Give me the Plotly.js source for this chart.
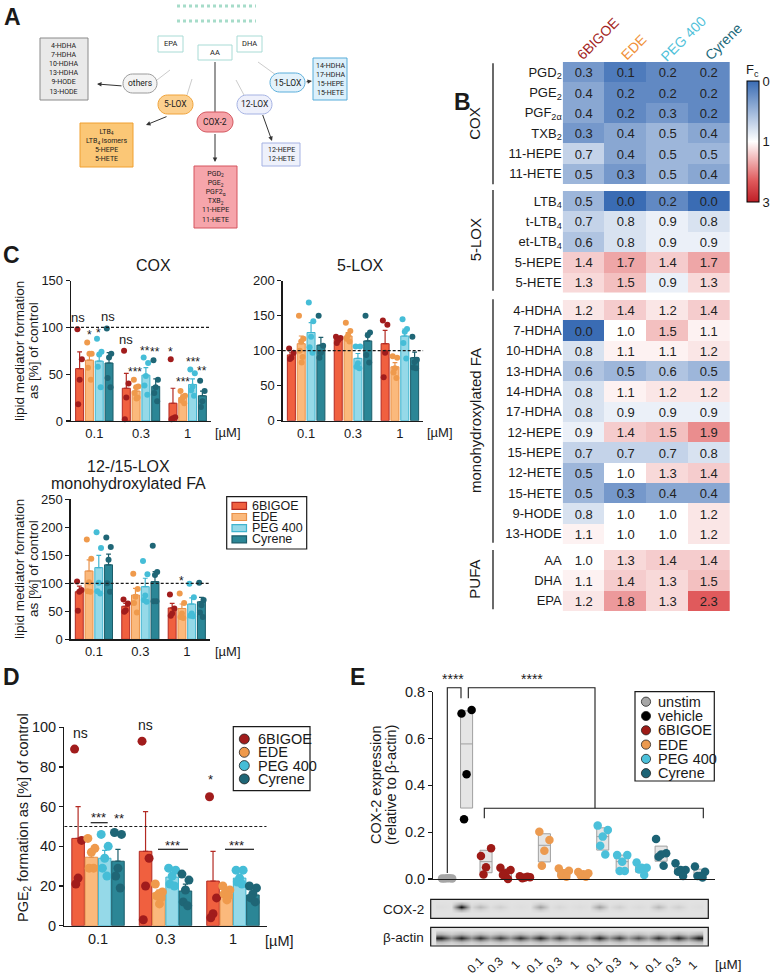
<!DOCTYPE html>
<html><head><meta charset="utf-8">
<script src="https://cdn.plot.ly/plotly-3.0.1.min.js"></script>
<style>body{margin:0;background:#fff}#chart{width:784px;height:976px}</style>
</head><body><div id="chart"></div>
<script>
// ================= DATA =================
const solvents = ['6BIGOE', 'EDE', 'PEG 400', 'Cyrene'];
const concs = ['0.1', '0.3', '1'];

// Panel C – COX (% of control), per solvent: [0.1, 0.3, 1]
const coxMean = [[56, 35, 19], [65, 32, 25], [64, 49, 39], [62, 37, 27]];
const coxSem  = [[18, 16, 16], [8, 4, 3], [7, 8, 6], [11, 8, 5]];
const coxPts  = [
  [[98, 66, 44, 18], [75, 40, 25, 2], [66, 4, 3, 2]],
  [[84, 72, 72, 57, 44], [44, 37, 36, 30, 25, 24], [32, 27, 25, 22, 19]],
  [[88, 74, 71, 58, 36], [68, 62, 48, 38, 28], [55, 51, 37, 33, 27]],
  [[99, 72, 68, 46, 36], [65, 44, 36, 30, 21], [43, 32, 21, 15]]
];
// Panel C – 5-LOX
const loxMean = [[94, 116, 110], [110, 121, 77], [126, 89, 121], [108, 114, 90]];
const loxSem  = [[3, 2, 19], [11, 5, 6], [14, 7, 10], [11, 11, 8]];
const loxPts  = [
  [[103, 97, 90, 88], [120, 118, 115, 111], [143, 137, 97, 62]],
  [[150, 117, 113, 100, 91, 83], [140, 128, 122, 117, 113], [92, 90, 75, 69, 61]],
  [[169, 142, 120, 105, 97], [106, 106, 82, 77, 75], [145, 131, 127, 111, 89]],
  [[150, 107, 97, 90], [150, 126, 122, 94, 83], [120, 87, 84, 76, 75]]
];
// Panel C – 12-/15-LOX monohydroxylated FA
const monoMean = [[85, 59, 56], [122, 79, 55], [128, 94, 63], [133, 103, 67]];
const monoSem  = [[10, 5, 8], [20, 12, 8], [22, 15, 11], [19, 18, 8]];
const monoPts  = [
  [[103, 88, 85, 51], [71, 64, 52, 49], [80, 55, 46, 42]],
  [[178, 144, 102, 86, 85], [117, 90, 76, 65, 48], [82, 65, 46, 40, 38]],
  [[191, 163, 101, 86, 82], [140, 116, 78, 70, 67], [99, 75, 46, 42, 41]],
  [[182, 165, 142, 100, 85], [167, 120, 115, 68, 68], [101, 70, 61, 48, 40]]
];
// Panel D – PGE2 formation (% of control)
const pgeMean = [[44, 37.5, 22.5], [34.5, 16.5, 16], [34, 24.5, 24], [32.5, 17.5, 15.5]];
const pgeSem  = [[16, 20, 15], [3, 1.5, 1], [4, 2, 1.5], [6, 3.5, 1.5]];
const pgePts  = [
  [[89, 43, 24, 21], [93, 34, 20, 3], [65, 14, 6, 4]],
  [[44, 39, 37, 29, 29], [21, 17, 16, 15, 14, 11], [20, 18, 17, 16, 15, 13]],
  [[46, 40, 34, 29, 25], [29, 28, 25, 21, 20], [28, 28, 24, 22, 21]],
  [[47, 46, 29, 25, 19], [26, 23, 18, 12, 10], [20, 19, 16, 14, 12]]
];
// Panel B – heatmap fold change
const hmCols = ['6BIGOE', 'EDE', 'PEG 400', 'Cyrene'];
const hmCoxRows  = ['PGD<sub>2</sub>', 'PGE<sub>2</sub>', 'PGF<sub>2α</sub>', 'TXB<sub>2</sub>', '11-HEPE', '11-HETE'];
const hmCoxVals  = [[0.3, 0.1, 0.2, 0.2], [0.4, 0.2, 0.2, 0.2], [0.4, 0.2, 0.3, 0.2], [0.3, 0.4, 0.5, 0.4], [0.7, 0.4, 0.5, 0.5], [0.5, 0.3, 0.5, 0.4]];
const hmLoxRows  = ['LTB<sub>4</sub>', 't-LTB<sub>4</sub>', 'et-LTB<sub>4</sub>', '5-HEPE', '5-HETE'];
const hmLoxVals  = [[0.5, 0.0, 0.2, 0.0], [0.7, 0.8, 0.9, 0.8], [0.6, 0.8, 0.9, 0.9], [1.4, 1.7, 1.4, 1.7], [1.3, 1.5, 0.9, 1.3]];
const hmMonoRows = ['4-HDHA', '7-HDHA', '10-HDHA', '13-HDHA', '14-HDHA', '17-HDHA', '12-HEPE', '15-HEPE', '12-HETE', '15-HETE', '9-HODE', '13-HODE'];
const hmMonoVals = [[1.2, 1.4, 1.2, 1.4], [0.0, 1.0, 1.5, 1.1], [0.8, 1.1, 1.1, 1.2], [0.6, 0.5, 0.6, 0.5], [0.8, 1.1, 1.2, 1.2], [0.8, 0.9, 0.9, 0.9],
                    [0.9, 1.4, 1.5, 1.9], [0.7, 0.7, 0.7, 0.8], [0.5, 1.0, 1.3, 1.4], [0.5, 0.3, 0.4, 0.4], [0.8, 1.0, 1.0, 1.2], [1.1, 1.0, 1.0, 1.2]];
const hmPufaRows = ['AA', 'DHA', 'EPA'];
const hmPufaVals = [[1.0, 1.3, 1.4, 1.4], [1.1, 1.4, 1.3, 1.5], [1.2, 1.8, 1.3, 2.3]];
const hmGroups = ['COX', '5-LOX', 'monohydroxylated FA', 'PUFA'];
// Panel E – COX-2 expression (relative to β-actin)
const eGroups = ['unstim', 'vehicle', '6BIGOE 0.1', '6BIGOE 0.3', '6BIGOE 1', 'EDE 0.1', 'EDE 0.3', 'EDE 1',
                 'PEG 400 0.1', 'PEG 400 0.3', 'PEG 400 1', 'Cyrene 0.1', 'Cyrene 0.3', 'Cyrene 1'];
const eValues = [
  [0.002, 0.002, 0.003, 0.002, 0.003],
  [0.707, 0.722, 0.447, 0.255],
  [0.098, 0.131, 0.050, 0.019],
  [0.048, 0.038, 0.025, 0.017, 0.000],
  [0.012, 0.008, 0.006, 0.003, 0.010],
  [0.202, 0.167, 0.121, 0.057],
  [0.045, 0.035, 0.025, 0.015, 0.010],
  [0.030, 0.025, 0.020, 0.015, 0.010],
  [0.228, 0.209, 0.181, 0.142, 0.105],
  [0.102, 0.102, 0.074, 0.034, 0.034],
  [0.070, 0.048, 0.048, 0.041, 0.017],
  [0.171, 0.110, 0.105, 0.095, 0.057],
  [0.067, 0.038, 0.038, 0.031, 0.013],
  [0.053, 0.031, 0.013, 0.013, 0.006]
];
const eLegend = ['unstim', 'vehicle', '6BIGOE', 'EDE', 'PEG 400', 'Cyrene'];
const laneLabels = ['0.1', '0.3', '1', '0.1', '0.3', '1', '0.1', '0.3', '1', '0.1', '0.3', '1'];
// western blot band intensity per lane (0 = none, 1 = strongest)
const cox2Band  = [0.02, 1.0, 0.22, 0.1, 0.02, 0.35, 0.06, 0.03, 0.35, 0.1, 0.04, 0.22, 0.1, 0.02];
const actinBand = [0.92, 0.9, 0.85, 0.8, 0.85, 0.9, 0.8, 0.75, 0.9, 0.8, 0.72, 0.85, 0.9, 0.92];

// ================= STYLE =================
const W = 784, H = 976;
const PX = v => v / W, PY = v => 1 - v / H;
const dX = (a, b) => [a / W, b / W];
const dY = (top, bot) => [1 - bot / H, 1 - top / H];
const FONT = 'Arial, "Liberation Sans", sans-serif';
const INK = '#1a1a1a';
const solFill = ['#f0603f', '#fbb97c', '#95d9e8', '#2b8696'];
const solEdge = ['#b32a23', '#e8914a', '#3fb4cf', '#1c5d6a'];
const solDot  = ['#a11c1c', '#ef9a4c', '#45bdd7', '#1f6676'];
const eColors = ['#a6a6a6', '#000000', '#9e1b17', '#9e1b17', '#9e1b17', '#ec9a4f', '#ec9a4f', '#ec9a4f',
                 '#4bc0da', '#4bc0da', '#4bc0da', '#1c6375', '#1c6375', '#1c6375'];
const eLegColors = ['#a6a6a6', '#000000', '#9e1b17', '#ec9a4f', '#4bc0da', '#1c6375'];
const jit = [-0.28, 0.28, 0, -0.18, 0.18, 0.05];

const traces = [];
const shapes = [];
const ann = [];

function txt(x, y, t, size, o = {}) {
  ann.push(Object.assign({xref: 'paper', yref: 'paper', x: PX(x), y: PY(y), text: t, showarrow: false,
    font: {family: o.family || FONT, size: size, color: o.color || INK}, xanchor: 'center', yanchor: 'middle'}, o.extra || {}));
}
function rectPx(x0, y0, x1, y1, fill, line, lw = 1) {
  shapes.push({type: 'rect', xref: 'paper', yref: 'paper', x0: PX(x0), x1: PX(x1), y0: PY(y0), y1: PY(y1),
    fillcolor: fill, line: {color: line, width: lw}, layer: 'above'});
}
function linePx(x0, y0, x1, y1, color, lw = 1, dash = 'solid') {
  shapes.push({type: 'line', xref: 'paper', yref: 'paper', x0: PX(x0), x1: PX(x1), y0: PY(y0), y1: PY(y1),
    line: {color: color, width: lw, dash: dash}, layer: 'above'});
}
function pathPx(pts, color, lw = 1) {
  const d = pts.map((p, i) => (i ? 'L' : 'M') + PX(p[0]) + ',' + PY(p[1])).join(' ');
  shapes.push({type: 'path', xref: 'paper', yref: 'paper', path: d, line: {color: color, width: lw}, layer: 'above'});
}
function circlePx(cx, cy, r, fill, line) {
  shapes.push({type: 'circle', xref: 'paper', yref: 'paper', x0: PX(cx - r), x1: PX(cx + r), y0: PY(cy + r), y1: PY(cy - r),
    fillcolor: fill, line: {color: line, width: 0.8}, layer: 'above'});
}
function pillPx(x0, y0, x1, y1, fill, line) {
  const r = (y1 - y0) / 2, ym = (y0 + y1) / 2;
  const P = (x, y) => PX(x) + ',' + PY(y);
  const d = 'M' + P(x0 + r, y0) + ' L' + P(x1 - r, y0) + ' C' + P(x1 - r * 0.45, y0) + ' ' + P(x1, ym - r * 0.55) + ' ' + P(x1, ym) +
    ' C' + P(x1, ym + r * 0.55) + ' ' + P(x1 - r * 0.45, y1) + ' ' + P(x1 - r, y1) + ' L' + P(x0 + r, y1) +
    ' C' + P(x0 + r * 0.45, y1) + ' ' + P(x0, ym + r * 0.55) + ' ' + P(x0, ym) +
    ' C' + P(x0, ym - r * 0.55) + ' ' + P(x0 + r * 0.45, y0) + ' ' + P(x0 + r, y0) + ' Z';
  shapes.push({type: 'path', xref: 'paper', yref: 'paper', path: d, fillcolor: fill, line: {color: line, width: 1}, layer: 'above'});
}
function arrowPx(tx, ty, hx, hy, color = '#333') {
  ann.push({xref: 'paper', yref: 'paper', x: PX(hx), y: PY(hy), ax: tx - hx, ay: ty - hy, axref: 'pixel', ayref: 'pixel',
    text: ' ', font: {size: 1}, showarrow: true, arrowhead: 2, arrowsize: 0.9, arrowwidth: 1, arrowcolor: color, standoff: 0, startstandoff: 0});
}

// ================= PANEL C / D bars =================
function barPanel(xa, ya, means, sems, pts, pitch, bw, dotSize) {
  solvents.forEach((s, k) => {
    const xs = concs.map((c, i) => i + (k - 1.5) * pitch);
    traces.push({type: 'bar', xaxis: xa, yaxis: ya, x: xs, y: means[k], width: bw,
      marker: {color: solFill[k], line: {color: solEdge[k], width: 1}},
      error_y: {type: 'data', symmetric: false, array: sems[k], arrayminus: sems[k].map(() => 0),
        color: solEdge[k], thickness: 1.2, width: bw * 14},
      hoverinfo: 'skip', showlegend: false});
    const dx = [], dy = [];
    pts[k].forEach((arr, i) => arr.forEach((v, j) => { dx.push(xs[i] + jit[j % jit.length] * bw); dy.push(v); }));
    traces.push({type: 'scatter', mode: 'markers', xaxis: xa, yaxis: ya, x: dx, y: dy, cliponaxis: false,
      marker: {color: solDot[k], size: dotSize, line: {width: 0}}, hoverinfo: 'skip', showlegend: false});
  });
}
barPanel('x', 'y', coxMean, coxSem, coxPts, 0.21, 0.171, 6);
barPanel('x2', 'y2', loxMean, loxSem, loxPts, 0.21, 0.171, 6);
barPanel('x3', 'y3', monoMean, monoSem, monoPts, 0.21, 0.171, 6);
barPanel('x4', 'y4', pgeMean, pgeSem, pgePts, 0.197, 0.186, 9);

// dashed reference lines
[['x', 'y', 100], ['x2', 'y2', 100], ['x3', 'y3', 100], ['x4', 'y4', 50]].forEach(([xa, ya, v]) => {
  shapes.push({type: 'line', xref: xa, yref: ya, x0: -0.5, x1: 2.5, y0: v, y1: v, line: {color: INK, width: 1.2, dash: '3px,2px'}, layer: 'above'});
});

// ================= PANEL B heatmap =================
const tFc = z => -(z <= 1 ? z : 1 + (z - 1) / 2);
const hmSets = [[hmCoxRows, hmCoxVals], [hmLoxRows, hmLoxVals], [hmMonoRows, hmMonoVals], [hmPufaRows, hmPufaVals]];
hmSets.forEach(([rows, vals], g) => {
  traces.push({type: 'heatmap', xaxis: 'x' + (6 + g), yaxis: 'y' + (6 + g), x: hmCols, y: rows,
    z: vals.map(r => r.map(tFc)), text: vals.map(r => r.map(v => v.toFixed(1))), texttemplate: '%{text}',
    textfont: {family: FONT, size: 13, color: '#222'}, coloraxis: 'coloraxis', hoverinfo: 'skip', xgap: 0, ygap: 0});
});

// ================= PANEL E =================
function quart(arr, p) {
  const s = [...arr].sort((a, b) => a - b), n = s.length;
  let pos = p * (n + 1); pos = Math.min(Math.max(pos, 1), n);
  const lo = Math.floor(pos), f = pos - lo;
  return lo >= n ? s[n - 1] : s[lo - 1] + f * (s[lo] - s[lo - 1]);
}
const eIdx = eGroups.map((g, i) => i);
const q1 = eValues.map(v => quart(v, 0.25)), q3 = eValues.map(v => quart(v, 0.75)), med = eValues.map(v => quart(v, 0.5));
traces.push({type: 'box', xaxis: 'x5', yaxis: 'y5', x: eIdx.slice(1), q1: q1.slice(1), median: med.slice(1), q3: q3.slice(1),
  lowerfence: q1.slice(1), upperfence: q3.slice(1), width: 0.62, fillcolor: '#e5e5e5', line: {color: '#a0a0a0', width: 1},
  whiskerwidth: 0, hoverinfo: 'skip', showlegend: false});
const eJit = [-0.26, 0.26, 0, -0.13, 0.13];
const ex = [], ey = [], ec = [];
eValues.forEach((vals, i) => vals.forEach((v, j) => { ex.push(i + eJit[j % eJit.length]); ey.push(v); ec.push(eColors[i]); }));
traces.push({type: 'scatter', mode: 'markers', xaxis: 'x5', yaxis: 'y5', x: ex, y: ey, cliponaxis: false,
  marker: {color: ec, size: 8.5, line: {width: 0}}, hoverinfo: 'skip', showlegend: false});

// western blot bands
function bandZ(band, gapF, prof) {
  const row = [];
  band.forEach((v, i) => { row.push(v); if (i < band.length - 1) row.push(gapF * Math.min(v, band[i + 1])); });
  return prof.map(p => row.map(v => v * p));
}
const laneX = [];
cox2Band.forEach((v, i) => { laneX.push(i); if (i < cox2Band.length - 1) laneX.push(i + 0.5); });
const blotScale = [[0, '#e2e2e2'], [0.45, '#8c8c8c'], [1, '#050505']];
traces.push({type: 'heatmap', xaxis: 'x10', yaxis: 'y10', x: laneX, y: [0, 1, 2, 3, 4], z: bandZ(cox2Band, 0.2, [0, 0.3, 1, 0.3, 0]),
  zsmooth: 'best', colorscale: blotScale, zmin: 0, zmax: 1, showscale: false, hoverinfo: 'skip'});
traces.push({type: 'heatmap', xaxis: 'x11', yaxis: 'y11', x: laneX, y: [0, 1, 2, 3, 4], z: bandZ(actinBand, 0.5, [0, 0.25, 1, 0.25, 0]),
  zsmooth: 'best', colorscale: blotScale, zmin: 0, zmax: 1, showscale: false, hoverinfo: 'skip'});

// ================= AXES =================
function valAxis(domain, range, tickvals, anchor, fs, fmt) {
  return {domain, range, tickvals, anchor, tickformat: fmt || '', showline: true, linecolor: INK, linewidth: 1.3,
    ticks: 'outside', ticklen: 4, tickwidth: 1.3, tickcolor: INK, showgrid: false, zeroline: false,
    tickfont: {family: FONT, size: fs, color: INK}, fixedrange: true};
}
function catAxis(domain, anchor, fs) {
  return {domain, range: [-0.5, 2.5], tickvals: [0, 1, 2], ticktext: concs, anchor, showline: true, linecolor: INK, linewidth: 1.3,
    ticks: '', showgrid: false, zeroline: false, tickfont: {family: FONT, size: fs, color: INK}, fixedrange: true};
}
const layout = {
  width: W, height: H, margin: {l: 0, r: 0, t: 0, b: 0}, paper_bgcolor: '#fff', plot_bgcolor: 'rgba(0,0,0,0)',
  showlegend: false, barmode: 'overlay', font: {family: FONT, color: INK, size: 13},
  xaxis: catAxis(dX(71, 211), 'y', 13), yaxis: valAxis(dY(280.7, 421), [0, 150], [0, 50, 100, 150], 'x', 13),
  xaxis2: catAxis(dX(282.7, 423.3), 'y2', 13), yaxis2: valAxis(dY(280.7, 420.7), [0, 200], [0, 50, 100, 150, 200], 'x2', 13),
  xaxis3: catAxis(dX(70.7, 210), 'y3', 13), yaxis3: valAxis(dY(499.3, 639.3), [0, 250], [0, 50, 100, 150, 200, 250], 'x3', 13),
  xaxis4: catAxis(dX(64.3, 266.7), 'y4', 14.5), yaxis4: valAxis(dY(727.3, 925.7), [0, 100], [0, 20, 40, 60, 80, 100], 'x4', 14.5),
  xaxis5: {domain: dX(433.3, 715), range: [-0.71, 13.77], anchor: 'y5', showline: true, linecolor: INK, linewidth: 1.3,
    ticks: '', showticklabels: false, showgrid: false, zeroline: false, fixedrange: true},
  yaxis5: valAxis(dY(691.7, 879), [0, 0.8], [0, 0.2, 0.4, 0.6, 0.8], 'x5', 14.5, '.1f'),
  coloraxis: {cmin: -2, cmax: 0,
    colorscale: [[0, 'rgb(190,30,38)'], [0.175, 'rgb(224,90,92)'], [0.5, 'rgb(255,255,255)'], [1, 'rgb(58,108,180)']],
    colorbar: {lenmode: 'pixels', len: 121, thickness: 12, x: PX(747), xanchor: 'left', y: PY(141.5), yanchor: 'middle',
      xpad: 0, ypad: 0, outlinewidth: 1, outlinecolor: '#000', tickvals: [-2, -1, 0], ticktext: ['3', '1', '0'], ticks: '',
      tickfont: {family: FONT, size: 13, color: INK}}},
  shapes: shapes, annotations: ann
};
const hmY = [[62, 184], [191, 292.5], [300, 544], [550, 611]];
hmY.forEach(([t, b], g) => {
  layout['xaxis' + (6 + g)] = {domain: dX(562.7, 730), anchor: 'y' + (6 + g), type: 'category', range: [-0.5, 3.5], visible: false, fixedrange: true};
  layout['yaxis' + (6 + g)] = {domain: dY(t, b), anchor: 'x' + (6 + g), type: 'category', autorange: 'reversed', showline: false,
    ticks: '', showgrid: false, zeroline: false, tickfont: {family: FONT, size: 13, color: INK}, fixedrange: true};
});
layout.xaxis10 = {domain: dX(431.3, 707.7), anchor: 'y10', range: [-0.5, 13.5], visible: false, fixedrange: true};
layout.yaxis10 = {domain: dY(899.8, 917.8), anchor: 'x10', range: [-1.6, 4.2], visible: false, fixedrange: true};
layout.xaxis11 = {domain: dX(431.3, 707.7), anchor: 'y11', range: [-0.5, 13.5], visible: false, fixedrange: true};
layout.yaxis11 = {domain: dY(927.8, 945.5), anchor: 'x11', range: [0.04, 4.5], visible: false, fixedrange: true};

// ================= TEXT & DECORATION =================
// panel letters
[['A', 12, 17], ['B', 463, 102], ['C', 11, 255], ['D', 11, 677], ['E', 357, 677]].forEach(([t, x, y]) =>
  txt(x, y, '<b>' + t + '</b>', 23));

// --- Panel A schematic ---
linePx(177, 6, 256, 6, '#a6dcc9', 3, 'dot');
linePx(177, 21, 256, 21, '#a6dcc9', 3, 'dot');
// connectors
linePx(170, 70, 157, 80, '#cccccc', 1);
linePx(192, 79, 187, 95, '#cccccc', 1);
linePx(236, 80, 244, 95, '#cccccc', 1);
linePx(258, 62, 276, 75, '#cccccc', 1);
linePx(215, 62, 215, 112, '#555555', 1.2);
// substrate boxes
rectPx(158, 36, 183, 52, '#ffffff', '#a8dbd5'); txt(170.5, 44, 'EPA', 7.5, {family: 'Roboto'});
rectPx(198, 45, 232, 60, '#ffffff', '#a8dbd5'); txt(215, 52.5, 'AA', 7.5, {family: 'Roboto'});
rectPx(237, 36, 262, 52, '#ffffff', '#a8dbd5'); txt(249.5, 44, 'DHA', 7.5, {family: 'Roboto'});
// enzymes
pillPx(123, 74, 157, 93, '#f4f4f4', '#9a9a9a'); txt(140, 83.5, 'others', 8.5, {family: 'Roboto'});
pillPx(158, 95, 193, 114, '#fcd08f', '#f0a33a'); txt(175.5, 104.5, '5-LOX', 8.5, {family: 'Roboto'});
pillPx(197, 112, 233, 132, '#f6a3a8', '#d4575f'); txt(215, 122, 'COX-2', 8.5, {family: 'Roboto'});
pillPx(237, 95, 272, 114, '#eef0fb', '#a5b2e3'); txt(254.5, 104.5, '12-LOX', 8.5, {family: 'Roboto'});
pillPx(270, 73, 305, 92, '#e3f2fb', '#5aaedb'); txt(287.5, 82.5, '15-LOX', 8.5, {family: 'Roboto'});
// products
rectPx(40, 38, 88, 100, '#e9e9e9', '#8a8a8a');
txt(64, 69, '4-HDHA<br>7-HDHA<br>10-HDHA<br>13-HDHA<br>9-HODE<br>13-HODE', 7, {family: 'Roboto'});
rectPx(80, 123, 133, 167, '#fbc776', '#f0a030');
txt(106.5, 145, 'LTB<sub>4</sub><br>LTB<sub>4</sub> isomers<br>5-HEPE<br>5-HETE', 7, {family: 'Roboto'});
rectPx(194, 166, 237, 228, '#f6a5ab', '#d5555f');
txt(215.5, 197, 'PGD<sub>2</sub><br>PGE<sub>2</sub><br>PGF2<sub>α</sub><br>TXB<sub>2</sub><br>11-HEPE<br>11-HETE', 7, {family: 'Roboto'});
rectPx(262, 143, 300, 166, '#eef1fb', '#a5b2e3');
txt(281, 154.5, '12-HEPE<br>12-HETE', 7, {family: 'Roboto'});
rectPx(313, 58, 347, 100, '#dcf0fb', '#56acd9');
txt(330, 79, '14-HDHA<br>17-HDHA<br>15-HEPE<br>15-HETE', 7, {family: 'Roboto'});
// arrows
arrowPx(123, 86, 97, 84);
arrowPx(168, 116, 146, 125);
arrowPx(215, 132, 215, 162);
arrowPx(262, 113, 272, 141);
arrowPx(305, 82, 312, 81);

// --- Panel B text ---
[['6BIGOE', 597.5, 39, '#a31f24'], ['EDE', 633.7, 46.7, '#f0913a'], ['PEG 400', 683, 39, '#4fc1d9'], ['Cyrene', 723, 42, '#21697a']]
  .forEach(([t, x, y, c]) => txt(x, y, t, 14, {color: c, extra: {textangle: -45}}));
txt(752, 70, 'F<sub>c</sub>', 13);
[[63.3, 184.3], [190, 290.7], [299.3, 542.7], [550, 609.3]].forEach(([a, b], g) => {
  linePx(493, a, 493, b, INK, 1.3);
  txt(475, (a + b) / 2, hmGroups[g], 15, {extra: {textangle: -90}});
});

// --- Panel C text ---
txt(153, 265, 'COX', 16);
txt(360, 266, '5-LOX', 16);
txt(128.5, 466, '12-/15-LOX', 16);
txt(128.5, 483.5, 'monohydroxylated FA', 16);
[351, 569].forEach(cy => {
  txt(19, cy, 'lipid mediator formation', 13.5, {extra: {textangle: -90}});
  txt(33, cy, 'as [%] of control', 13.5, {extra: {textangle: -90}});
});
txt(228, 432, '[µM]', 13); txt(440, 432, '[µM]', 13); txt(228, 651, '[µM]', 13);
// significance COX
[['ns', 78, 317], ['*', 89, 335], ['*', 98, 333], ['ns', 108, 316],
 ['ns', 126, 339.5], ['***', 135, 372], ['**', 145, 351], ['**', 155, 352],
 ['*', 170, 352], ['***', 183, 382], ['***', 193, 362], ['**', 202, 371],
 ['*', 181.7, 581]].forEach(([t, x, y]) => txt(x, y, t, t === 'ns' ? 13 : 12));
// legend C
rectPx(226.7, 496.7, 306.7, 549, 'rgba(0,0,0,0)', INK, 1.2);
solvents.forEach((s, k) => {
  const y = 505.8 + k * 11.2;
  rectPx(232, y - 3.5, 246.5, y + 3.5, solFill[k], solEdge[k], 1.2);
  txt(250, y, s, 12.5, {extra: {xanchor: 'left'}});
});

// --- Panel D text ---
txt(24, 818, 'PGE<sub>2</sub> formation as [%] of control', 14.5, {extra: {textangle: -90}});
txt(279.3, 941, '[µM]', 14.5);
[['ns', 80, 733], ['***', 99, 817], ['**', 119, 818], ['ns', 145, 724.5], ['***', 172.7, 845.5], ['*', 210.7, 779], ['***', 236, 845.5]]
  .forEach(([t, x, y]) => txt(x, y, t, t === 'ns' ? 14 : 13));
linePx(90.7, 822.7, 107.7, 822.7, INK, 1.2);
linePx(158, 849.3, 188, 849.3, INK, 1.2);
linePx(225, 849.3, 254, 849.3, INK, 1.2);
rectPx(233.3, 726.7, 310, 790.7, 'rgba(0,0,0,0)', INK, 1.2);
solvents.forEach((s, k) => {
  const y = 739 + k * 13.3;
  circlePx(244.3, y, 5, solDot[k], '#222');
  txt(256, y, s, 14.5, {extra: {xanchor: 'left'}});
});

// --- Panel E text ---
txt(376, 785, 'COX-2 expression', 14.5, {extra: {textangle: -90}});
txt(391, 785, '(relative to β-actin)', 14.5, {extra: {textangle: -90}});
pathPx([[447.3, 873], [447.3, 687.7], [461, 687.7], [461, 698.3]], INK, 1.1);
pathPx([[468.3, 698.3], [468.3, 687.7], [595, 687.7], [595, 808.3]], INK, 1.1);
pathPx([[484.3, 818.3], [484.3, 808.3], [703.3, 808.3], [703.3, 818.3]], INK, 1.1);
txt(453.3, 679, '****', 14); txt(531.7, 679, '****', 14);
rectPx(635, 691.7, 714.3, 781, 'rgba(0,0,0,0)', INK, 1.2);
eLegend.forEach((s, k) => {
  const y = 701.7 + k * 14.3;
  circlePx(646, y, 4.6, eLegColors[k], '#222');
  txt(655.7, y, s, 14.5, {extra: {xanchor: 'left'}});
});
// blot frames & labels
rectPx(430.7, 899.3, 708.3, 918.3, 'rgba(0,0,0,0)', INK, 1.2);
rectPx(430.7, 927.3, 708.3, 946, 'rgba(0,0,0,0)', INK, 1.2);
shapes.unshift({type: 'rect', xref: 'paper', yref: 'paper', x0: PX(430.7), x1: PX(708.3), y0: PY(918.3), y1: PY(899.3), fillcolor: '#e2e2e2', line: {width: 0}, layer: 'below'});
shapes.unshift({type: 'rect', xref: 'paper', yref: 'paper', x0: PX(430.7), x1: PX(708.3), y0: PY(946), y1: PY(927.3), fillcolor: '#e2e2e2', line: {width: 0}, layer: 'below'});
txt(426, 909, 'COX-2', 13.5, {extra: {xanchor: 'right'}});
txt(426, 937, 'β-actin', 13.5, {extra: {xanchor: 'right'}});
laneLabels.forEach((t, i) => {
  const cx = 431.3 + (i + 2.5) * (276.4 / 14);
  txt(cx - 5, 965, t, 12, {extra: {textangle: -45}});
});
txt(728.3, 964, '[µM]', 13.5);

Plotly.newPlot('chart', traces, layout, {staticPlot: true, displayModeBar: false});
</script>
</body></html>
